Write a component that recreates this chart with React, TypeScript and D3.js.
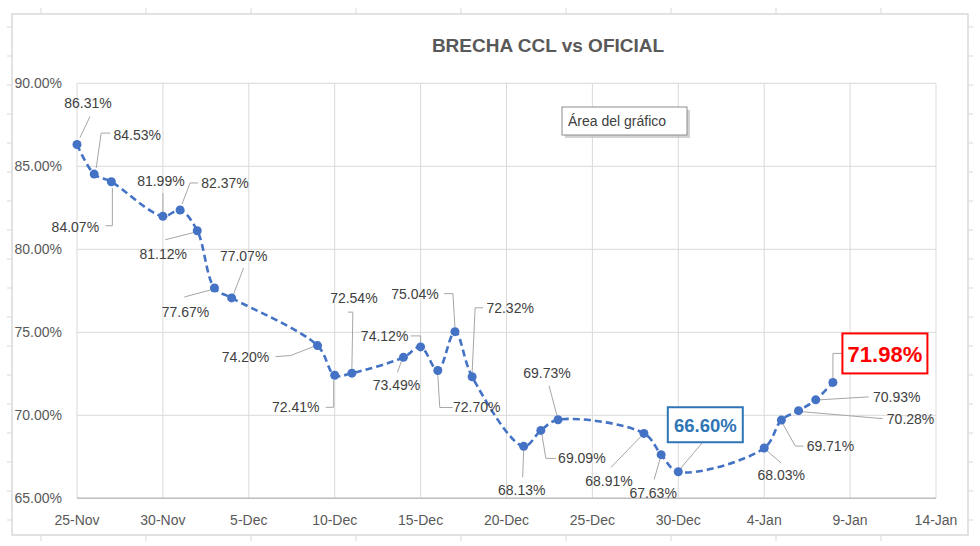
import React from "react";
import * as d3 from "d3";

// ---- data ----
const dates: string[] = [
  "2020-11-25", "2020-11-26", "2020-11-27", "2020-11-30", "2020-12-01", "2020-12-02",
  "2020-12-03", "2020-12-04", "2020-12-09", "2020-12-10", "2020-12-11", "2020-12-14",
  "2020-12-15", "2020-12-16", "2020-12-17", "2020-12-18", "2020-12-21", "2020-12-22",
  "2020-12-23", "2020-12-28", "2020-12-29", "2020-12-30", "2021-01-04", "2021-01-05",
  "2021-01-06", "2021-01-07", "2021-01-08",
];
const brecha: number[] = [
  0.8631, 0.8453, 0.8407, 0.8199, 0.8237, 0.8112, 0.7767, 0.7707, 0.742, 0.7241,
  0.7254, 0.7349, 0.7412, 0.727, 0.7504, 0.7232, 0.6813, 0.6909, 0.6973, 0.6891,
  0.6763, 0.666, 0.6803, 0.6971, 0.7028, 0.7093, 0.7198,
];
const yTicks: number[] = [0.65, 0.7, 0.75, 0.8, 0.85, 0.9];
const xStart = "2020-11-25";
const xEnd = "2021-01-14";
const title = "BRECHA CCL vs OFICIAL";
const tooltipText = "Área del gráfico";
const minIndex = 21; // highlighted (blue box)
const lastIndex = 26; // highlighted (red box)

// label layout: [dx, dy] of label centre relative to point, then leader polyline (relative)
const labelLayout: { d: [number, number]; l: [number, number][] }[] = [
  { d: [11, -42], l: [[13, -28], [3, -7]] },
  { d: [43, -39], l: [[16, -41], [7, -41], [2, -6]] },
  { d: [-36, 45], l: [[-6, 44], [1, 44], [1, 6]] },
  { d: [-2, -35], l: [[0, -23], [0, -4]] },
  { d: [45, -27], l: [[18, -27], [10, -27], [2, -6]] },
  { d: [-34, 23], l: [[-32, 9], [-4, 2]] },
  { d: [-29, 24], l: [[-30, 9], [-4, 2]] },
  { d: [12, -42], l: [[12, -30], [2, -4]] },
  { d: [-72, 11], l: [[-42, 11], [-27, 10], [-4, 1]] },
  { d: [-39, 32], l: [[-9, 32], [-1, 32], [-1, 5]] },
  { d: [2, -75], l: [[-4, -61], [1, -61], [0, -4]] },
  { d: [-7, 28], l: [[-6, 15], [-2, 4]] },
  { d: [-36, -11], l: [[-10, -11], [0, -11], [0, -4]] },
  { d: [39, 37], l: [[15, 37], [2, 37], [0, 4]] },
  { d: [-40, -38], l: [[-11, -38], [-2, -38], [0, -4]] },
  { d: [38, -69], l: [[11, -69], [3, -69], [0, -4]] },
  { d: [-2, 44], l: [[0, 4], [-1, 31]] },
  { d: [41, 28], l: [[15, 28], [5, 28], [1, 4]] },
  { d: [-11, -47], l: [[-9, -34], [-1, -4]] },
  { d: [-35, 48], l: [[-33, 34], [-3, 3]] },
  { d: [-8, 38], l: [[-7, 25], [-1, 4]] },
  { d: [27, -47], l: [[24, -29], [2, -3]] },
  { d: [17, 27], l: [[17, 15], [3, 3]] },
  { d: [49, 26], l: [[22, 26], [14, 26], [1, 3]] },
  { d: [112, 8], l: [[84, 8], [3, 1]] },
  { d: [81, -3], l: [[53, -3], [3, 0]] },
  { d: [52, -29], l: [[10, -29], [0, -29], [0, -4]] },
];

const W = 980;
const H = 546;
const FONT = "'Liberation Sans', Arial, sans-serif";

export default function App() {
  const parse = d3.timeParse("%Y-%m-%d");
  const x0 = parse(xStart)!;
  const x1 = parse(xEnd)!;
  const x = d3.scaleTime().domain([x0, x1]).range([77, 936]);
  const y = d3.scaleLinear().domain([0.65, 0.9]).range([498.3, 83.3]);
  const xTicks = d3.range(0, 51, 5).map((d) => d3.timeDay.offset(x0, d));
  const fmtX = d3.timeFormat("%-d-%b");
  const fmtY = d3.format(".2%");

  const pts = dates.map((s, i) => ({ x: x(parse(s)!), y: y(brecha[i]), v: brecha[i] }));
  const line = d3
    .line<{ x: number; y: number }>()
    .x((d) => d.x)
    .y((d) => d.y)
    .curve(d3.curveCatmullRom.alpha(0.5));

  const sheetRows = d3.range(0, 18).map((k) => 27 + 29 * k);
  const sheetCols = d3.range(0, 9).map((k) => 41 + 105 * k);

  return (
    <svg
      width={W}
      height={H}
      style={{ position: "absolute", left: 0, top: 0, background: "#fff" }}
      fontFamily={FONT}
    >
      {/* spreadsheet grid peeking outside the chart frame */}
      {sheetCols.map((c) => (
        <g key={"c" + c} stroke="#d9d9d9" strokeWidth={1}>
          <line x1={c} x2={c} y1={8} y2={14} />
          <line x1={c} x2={c} y1={535} y2={541} />
        </g>
      ))}
      {sheetRows.map((r) => (
        <g key={"r" + r} stroke="#d9d9d9" strokeWidth={1}>
          <line x1={7} x2={12} y1={r} y2={r} />
          <line x1={968} x2={973} y1={r} y2={r} />
        </g>
      ))}
      {/* chart frame */}
      <rect x={12} y={14} width={956} height={521} fill="#fff" stroke="#d9d9d9" strokeWidth={1.5} />

      {/* title */}
      <text x={548} y={45} textAnchor="middle" dominantBaseline="central" fontSize={19} fontWeight="bold" fill="#595959">
        {title}
      </text>

      {/* gridlines */}
      {yTicks.map((t) => (
        <line key={"gy" + t} x1={77} x2={936} y1={y(t)} y2={y(t)} stroke="#d9d9d9" strokeWidth={1} />
      ))}
      {xTicks.map((t, i) => (
        <line key={"gx" + i} x1={x(t)} x2={x(t)} y1={y(0.9)} y2={y(0.65)} stroke="#d9d9d9" strokeWidth={1} />
      ))}
      <line x1={77} x2={936} y1={y(0.65)} y2={y(0.65)} stroke="#bfbfbf" strokeWidth={1.5} />

      {/* axis labels */}
      {yTicks.map((t) => (
        <text key={"ty" + t} x={62} y={y(t)} textAnchor="end" dominantBaseline="central" fontSize={14} fill="#595959">
          {fmtY(t)}
        </text>
      ))}
      {xTicks.map((t, i) => (
        <text key={"tx" + i} x={x(t)} y={520} textAnchor="middle" dominantBaseline="central" fontSize={14} fill="#595959">
          {fmtX(t)}
        </text>
      ))}

      {/* leader lines */}
      {pts.map((p, i) => (
        <polyline
          key={"ll" + i}
          points={labelLayout[i].l.map(([dx, dy]) => `${p.x + dx},${p.y + dy}`).join(" ")}
          fill="none"
          stroke="#a6a6a6"
          strokeWidth={1}
        />
      ))}

      {/* series */}
      <path d={line(pts) || ""} fill="none" stroke="#4472C4" strokeWidth={2.6} strokeDasharray="7,4" />
      {pts.map((p, i) => (
        <circle key={"pt" + i} cx={p.x} cy={p.y} r={4.5} fill="#4472C4" />
      ))}

      {/* data labels */}
      {pts.map((p, i) => {
        const [dx, dy] = labelLayout[i].d;
        const cx = p.x + dx;
        const cy = p.y + dy;
        if (i === minIndex) {
          return (
            <g key={"lb" + i}>
              <rect x={cx - 37.5} y={cy - 17.5} width={75} height={35} fill="#fff" stroke="#2E75B6" strokeWidth={2} />
              <text x={cx} y={cy + 1} textAnchor="middle" dominantBaseline="central" fontSize={18.5} fontWeight="bold" fill="#2E75B6">
                {fmtY(p.v)}
              </text>
            </g>
          );
        }
        if (i === lastIndex) {
          return (
            <g key={"lb" + i}>
              <rect x={cx - 42.5} y={cy - 20} width={85} height={40} fill="#fff" stroke="#FF0000" strokeWidth={2} />
              <text x={cx} y={cy + 1} textAnchor="middle" dominantBaseline="central" fontSize={22} fontWeight="bold" fill="#FF0000">
                {fmtY(p.v)}
              </text>
            </g>
          );
        }
        return (
          <text key={"lb" + i} x={cx} y={cy} textAnchor="middle" dominantBaseline="central" fontSize={14} fill="#404040">
            {fmtY(p.v)}
          </text>
        );
      })}

      {/* tooltip */}
      <rect x={565} y={110} width={125} height={28} fill="#bfbfbf" opacity={0.7} />
      <rect x={562} y={107} width={125} height={28} fill="#fff" stroke="#8c8c8c" strokeWidth={1} />
      <text x={568} y={121} dominantBaseline="central" fontSize={14} fill="#404040">
        {tooltipText}
      </text>
    </svg>
  );
}
